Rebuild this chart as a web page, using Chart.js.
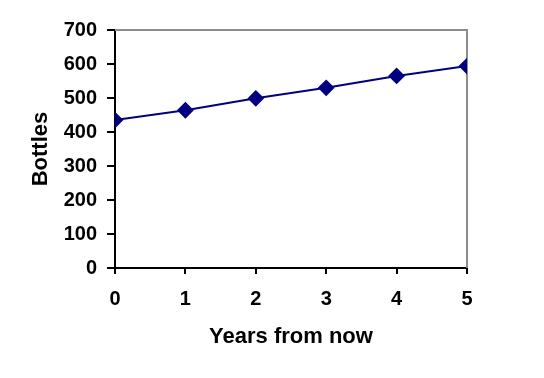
<!DOCTYPE html>
<html>
<head>
<meta charset="utf-8">
<script src="https://cdn.jsdelivr.net/npm/chart.js@4/dist/chart.umd.min.js"></script>
<style>
html,body{margin:0;padding:0;background:#fff;}
#wrap{position:relative;width:544px;height:378px;}
</style>
</head>
<body>
<div id="wrap"><canvas id="c" width="544" height="378"></canvas></div>
<script>
const years = [0, 1, 2, 3, 4, 5];
const bottles = [435, 464, 499, 530, 565, 594];
const yTicks = [0, 100, 200, 300, 400, 500, 600, 700];
const xTitle = 'Years from now';
const yTitle = 'Bottles';

const frame = {
  id: 'frame',
  beforeDatasetsDraw(chart) {
    const a = chart.chartArea, ctx = chart.ctx;
    ctx.save();
    ctx.strokeStyle = '#8c8c8c';
    ctx.lineWidth = 2;
    ctx.beginPath();
    ctx.moveTo(a.left, a.top);
    ctx.lineTo(a.right, a.top);
    ctx.lineTo(a.right, a.bottom);
    ctx.stroke();
    ctx.restore();
  }
};

const tickFont = {family: 'Liberation Sans, Arial, sans-serif', size: 20, weight: 'bold'};
const titleFont = {family: 'Liberation Sans, Arial, sans-serif', size: 22, weight: 'bold'};

new Chart(document.getElementById('c'), {
  type: 'line',
  data: {
    datasets: [{
      data: years.map((x, i) => ({x: x, y: bottles[i]})),
      borderColor: '#000080',
      backgroundColor: '#000080',
      borderWidth: 2,
      pointStyle: 'rectRot',
      pointRadius: 7,
      pointHoverRadius: 7,
      tension: 0
    }]
  },
  options: {
    responsive: false,
    animation: false,
    layout: {padding: {left: 0, right: 77, top: 30, bottom: 0}},
    plugins: {legend: {display: false}, tooltip: {enabled: false}},
    scales: {
      x: {
        type: 'linear', min: 0, max: 5,
        afterFit(s) { s.height = 110; },
        ticks: {stepSize: 1, color: '#000', font: tickFont, padding: 13, maxRotation: 0},
        grid: {drawOnChartArea: false, drawTicks: true, tickLength: 6, color: '#000', lineWidth: 2},
        border: {color: '#000', width: 2},
        title: {display: true, text: xTitle, color: '#000', font: titleFont, padding: {bottom: 28}}
      },
      y: {
        min: 0, max: 700,
        afterFit(s) { s.width = 115; },
        afterBuildTicks(s) { s.ticks = yTicks.map(v => ({value: v})); },
        ticks: {color: '#000', font: tickFont, padding: 10},
        grid: {drawOnChartArea: false, drawTicks: true, tickLength: 8, color: '#000', lineWidth: 2},
        border: {color: '#000', width: 2},
        title: {display: true, text: yTitle, color: '#000', font: titleFont, padding: {top: 28}}
      }
    }
  },
  plugins: [frame]
});
</script>
</body>
</html>
